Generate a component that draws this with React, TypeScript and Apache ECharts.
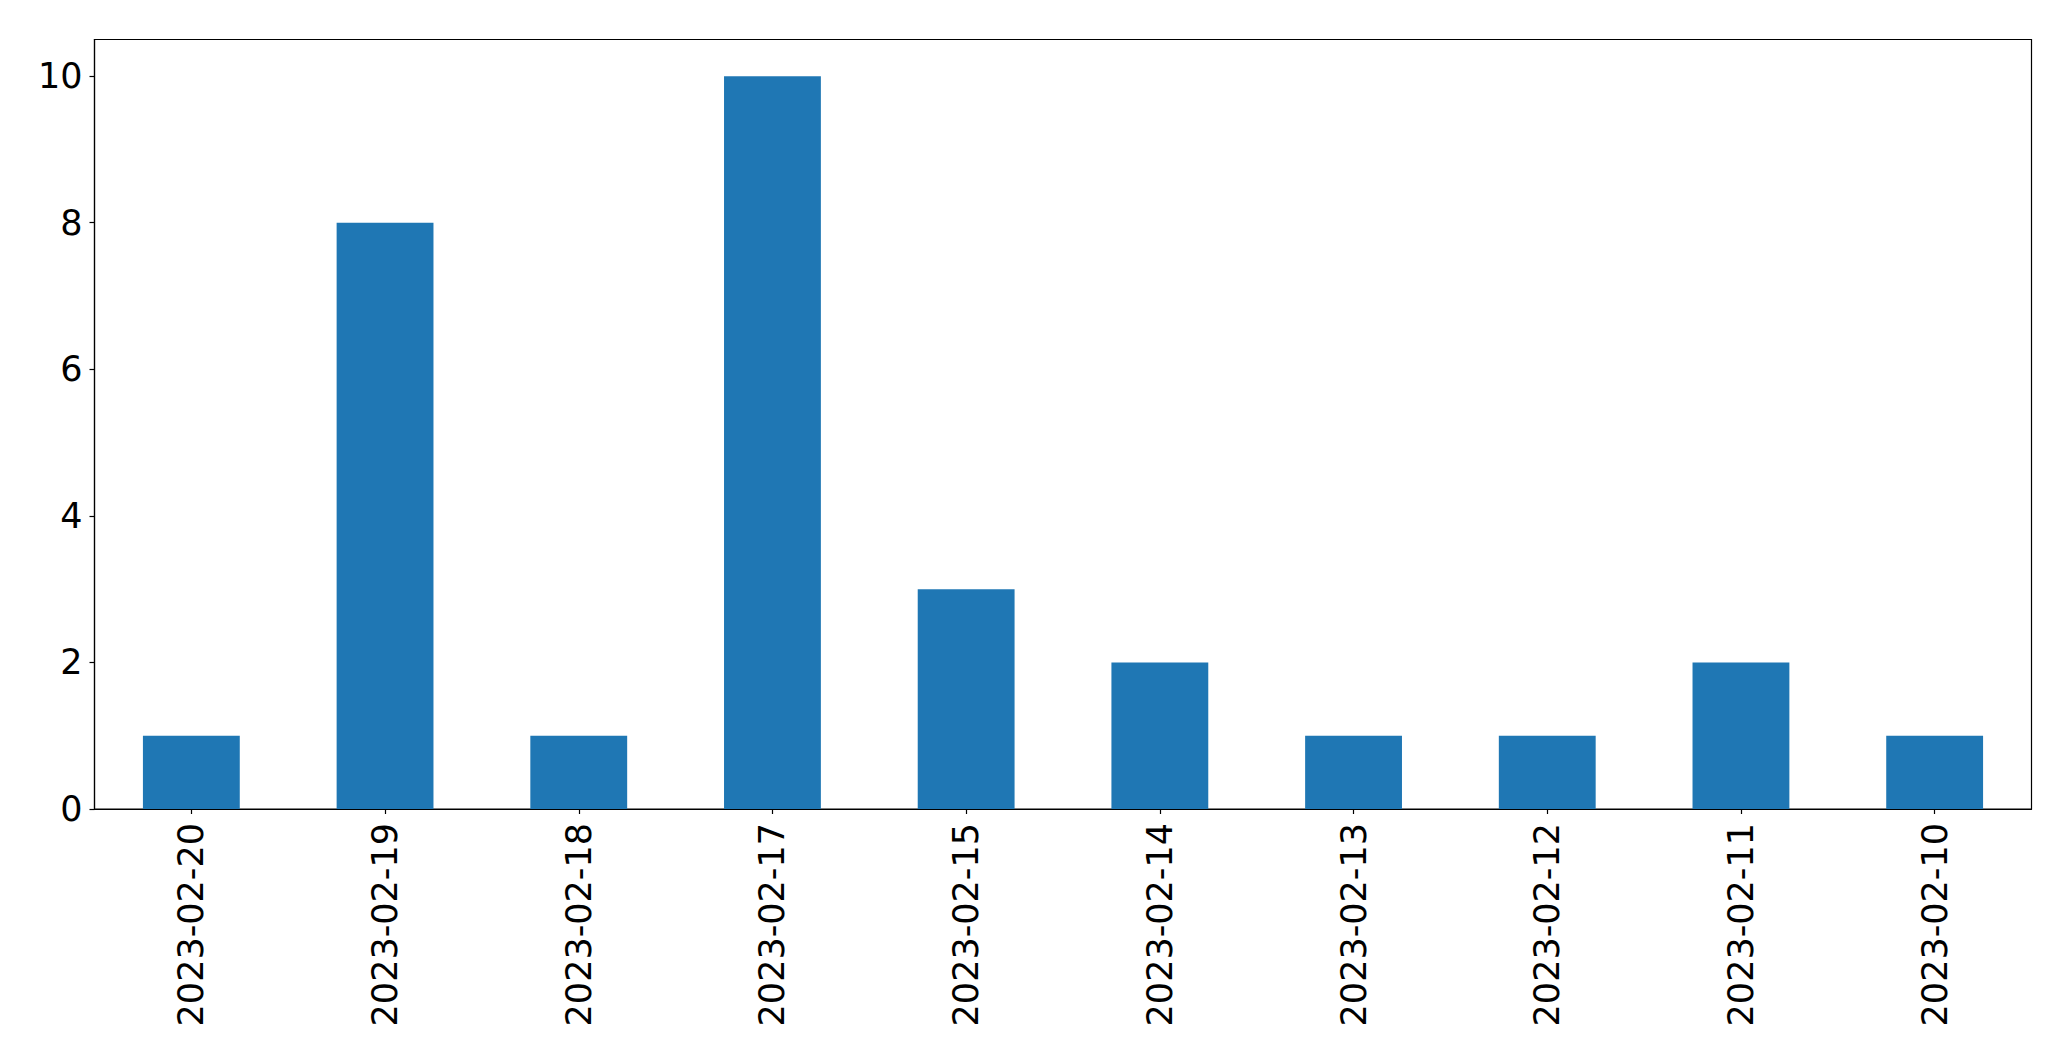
import React, { useEffect, useRef } from "react";
import * as echarts from "echarts";

const categories = [
  "2023-02-20",
  "2023-02-19",
  "2023-02-18",
  "2023-02-17",
  "2023-02-15",
  "2023-02-14",
  "2023-02-13",
  "2023-02-12",
  "2023-02-11",
  "2023-02-10",
];
const values = [1, 8, 1, 10, 3, 2, 1, 1, 2, 1];
const yMin = 0;
const yMax = 10.5;
const yInterval = 2;

export default function App() {
  const ref = useRef<HTMLDivElement>(null);
  useEffect(() => {
    document.body.style.margin = "0";
    if (!ref.current) return;
    const chart = echarts.init(ref.current, null, { renderer: "svg" });
    const font = "DejaVu Sans";
    chart.setOption({
      animation: false,
      backgroundColor: "#ffffff",
      grid: {
        left: 94.5,
        top: 39.5,
        right: 39.5,
        bottom: 252,
        show: true,
        borderColor: "#000000",
        borderWidth: 1.2,
        backgroundColor: "transparent",
      },
      xAxis: {
        type: "category",
        data: categories,
        axisLine: { show: true, lineStyle: { color: "#000", width: 1.2 } },
        axisTick: { show: true, alignWithLabel: true, length: 5, lineStyle: { color: "#000", width: 1.2 } },
        axisLabel: {
          rotate: 90,
          interval: 0,
          margin: 14,
          color: "#000",
          fontSize: 35,
          fontFamily: font,
        },
        splitLine: { show: false },
      },
      yAxis: {
        type: "value",
        min: yMin,
        max: yMax,
        interval: yInterval,
        axisLine: { show: true, lineStyle: { color: "#000", width: 1.2 } },
        axisTick: { show: true, length: 5, lineStyle: { color: "#000", width: 1.2 } },
        axisLabel: {
          margin: 12,
          color: "#000",
          fontSize: 35,
          fontFamily: font,
          showMaxLabel: false,
        },
        splitLine: { show: false },
      },
      series: [
        {
          type: "bar",
          data: values,
          barWidth: "50%",
          itemStyle: { color: "#1f77b4" },
        },
      ],
    });
    return () => chart.dispose();
  }, []);
  return (
    <div
      ref={ref}
      style={{ position: "absolute", left: 0, top: 0, width: 2071, height: 1061 }}
    />
  );
}
